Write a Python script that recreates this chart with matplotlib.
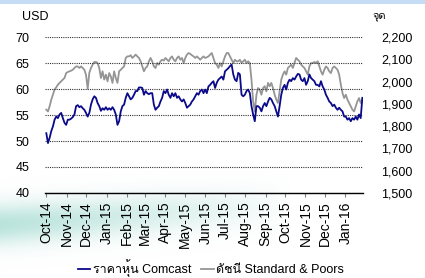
import numpy as np
import pandas as pd
import matplotlib
matplotlib.use("Agg")
import matplotlib.pyplot as plt
import matplotlib.dates as mdates
from matplotlib import font_manager
from matplotlib.ft2font import FT2Font

# find something that can draw Thai, fall back to the latin font for the rest
thai_font = None
for f in font_manager.fontManager.ttflist:
    try:
        if 0x0E23 in FT2Font(f.fname).get_charmap():
            thai_font = f.name
            break
    except Exception:
        pass
families = ['Liberation Sans', 'DejaVu Sans']
if thai_font:
    families = ['Liberation Sans', thai_font, 'DejaVu Sans']
plt.rcParams['font.family'] = families

# values, Oct-2014 .. late Jan-2016
start_date = '2014-10-01'
end_date = '2016-01-27'

comcast = [
    51.5, 49.6, 50.6, 51.9, 52.8, 54.1, 54.7, 54.4, 55.1, 55.4,
    54.4, 53.5, 53.1, 54.1, 54.1, 54.3, 54.6, 55.1, 56.7, 56.9,
    56.5, 56.7, 56.3, 56.0, 55.4, 54.7, 55.4, 57.0, 58.0, 58.6,
    58.3, 57.3, 56.7, 55.8, 56.3, 56.0, 56.5, 56.0, 56.3, 56.0,
    56.5, 56.0, 55.1, 53.1, 53.8, 55.7, 56.7, 57.0, 58.3, 59.2,
    58.6, 58.0, 58.3, 58.9, 59.6, 59.6, 60.3, 60.3, 60.2, 58.9,
    59.6, 59.2, 59.0, 59.2,
    59.2, 57.0, 56.0, 56.4, 56.7, 57.6, 58.3, 59.6, 59.2, 59.9,
    58.9, 58.3, 59.2, 58.6, 59.2, 58.3, 58.6, 58.0, 57.6, 58.0,
    57.3, 56.4, 56.7, 57.0, 57.6, 58.0, 58.6, 59.2, 58.9, 59.6,
    59.9, 59.2, 59.9, 59.2, 60.5, 60.8, 61.2, 61.5, 60.2, 61.2,
    61.8, 62.1, 62.4, 61.8, 63.4, 63.7, 64.0, 64.4, 64.7, 62.8,
    61.8, 61.5, 63.1, 62.8, 58.9, 58.6, 58.9, 59.6, 59.9, 59.2,
    56.7, 55.1, 53.8, 56.7,
    56.7, 56.4, 55.7, 56.7, 57.3, 56.7, 57.6, 58.3, 58.0, 57.3,
    56.7, 55.7, 54.7, 56.7, 58.9, 60.2, 60.8, 59.9, 61.2, 61.8,
    61.5, 62.1, 61.8, 62.4, 62.9, 62.8, 61.8, 61.5, 62.1, 60.8,
    61.5, 62.8, 62.1, 61.8, 61.5, 60.8, 60.8, 60.5, 61.5, 60.5,
    59.9, 58.9, 58.3, 57.6, 57.3, 56.7, 57.0, 56.4, 56.0, 56.4,
    56.0, 55.7, 54.7, 54.7, 54.1, 54.4, 53.8, 54.4, 54.1, 54.7,
    54.1, 55.1, 54.4, 58.3,
]

sp500 = [
    1874, 1866, 1889, 1919, 1941, 1964, 1974, 1986, 1994, 2001,
    2009, 2016, 2038, 2043, 2046, 2049, 2053, 2061, 2068, 2068,
    2061, 2068, 2061, 2053, 2030, 1968, 2040, 2061, 2076, 2088,
    2088, 2083, 2061, 2016, 2046, 2009, 2031, 2001, 2038, 2023,
    1994, 2046, 2016, 1994, 2046, 2053, 2061, 2068, 2106, 2113,
    2113, 2118, 2106, 2113, 2121, 2113, 2106, 2091, 2068, 2046,
    2061, 2068, 2091, 2106,
    2091, 2068, 2061, 2083, 2076, 2091, 2098, 2094, 2106, 2098,
    2091, 2106, 2113, 2098, 2091, 2106, 2113, 2098, 2106, 2083,
    2106, 2121, 2128, 2124, 2118, 2113, 2106, 2113, 2106, 2098,
    2106, 2113, 2106, 2109, 2113, 2121, 2128, 2106, 2083, 2076,
    2061, 2083, 2068, 2091, 2113, 2128, 2128, 2113, 2098, 2083,
    2098, 2091, 2091, 2098, 2083, 2091, 2098, 2083, 2091, 2083,
    2008, 1911, 1866, 1941,
    1971, 1964, 1941, 1971, 1979, 1956, 1994, 1979, 1994, 1971,
    1941, 1919, 1904, 1956, 2009, 2031, 2046, 2031, 2061, 2068,
    2076, 2061, 2083, 2106, 2098, 2091, 2076, 2068, 2061, 2046,
    2031, 2068, 2083, 2083, 2088, 2083, 2091, 2068, 2046, 2031,
    2053, 2068, 2061, 2046, 2038, 2061, 2068, 2061, 2053, 2031,
    1986, 1949, 1926, 1941, 1919, 1904, 1889, 1874, 1866, 1889,
    1911, 1926, 1904, 1919,
]

left_ticks = [40, 45, 50, 55, 60, 65, 70]
right_ticks = [1500, 1600, 1700, 1800, 1900, 2000, 2100, 2200]
label_comcast = 'ราคาหุ้น Comcast'
label_sp = 'ดัชนี Standard & Poors'

dates = pd.date_range(start_date, end_date, periods=len(comcast))

fig = plt.figure(figsize=(4.25, 2.78), dpi=100)
W, H = 425, 278

# decoration: light blue strip on top and a faint teal swoosh at the bottom left
bg = fig.add_axes([0, 0, 1, 1], zorder=-5)
bg.set_axis_off()
yy, xx = np.mgrid[0:H, 0:W]
img = np.ones((H, W, 4))
img[..., 0], img[..., 1], img[..., 2] = 0.70, 0.88, 0.85
band = np.exp(-((yy - 224 + 0.07 * xx) / 20.0) ** 2)
fade = np.clip(1 - xx / 290.0, 0, 1) ** 0.8
img[..., 3] = 0.9 * band * fade
bg.imshow(img, extent=[0, W, H, 0], aspect='auto')
bg.add_patch(plt.Rectangle((0, 0), W, 3.5, color='#c4dcf4', lw=0))
bg.set_xlim(0, W)
bg.set_ylim(H, 0)

ax = fig.add_axes([45 / W, 85 / H, 318 / W, 156 / H])
ax2 = ax.twinx()
ax.set_zorder(ax2.get_zorder() + 1)
ax.patch.set_visible(False)

l2, = ax2.plot(dates, sp500, color='#959595', lw=1.3, label=label_sp)
l1, = ax.plot(dates, comcast, color='#0a0a8a', lw=1.3, label=label_comcast)

ax.set_ylim(40, 70)
ax.set_yticks(left_ticks)
ax2.set_ylim(1500, 2200)
ax2.set_yticks(right_ticks)
ax2.set_yticklabels(['{:,}'.format(v) for v in right_ticks])
ax.set_xlim(pd.Timestamp('2014-09-29'), pd.Timestamp('2016-01-28'))

ax.yaxis.grid(True, color='#303030', linestyle=(0, (1, 1)), lw=0.8)
for a in (ax, ax2):
    for s in ('top', 'left', 'right'):
        a.spines[s].set_visible(False)
ax2.spines['bottom'].set_visible(False)
ax.spines['bottom'].set_color('black')
ax.spines['bottom'].set_linewidth(1.0)

ax.tick_params(axis='y', length=0, pad=11, labelsize=9)
ax2.tick_params(axis='y', length=0, pad=13, labelsize=9)
ax.tick_params(axis='x', length=3, width=0.8, color='#808080', pad=3, labelsize=10)
ax.xaxis.set_major_locator(mdates.MonthLocator())
ax.xaxis.set_major_formatter(mdates.DateFormatter('%b-%y'))
plt.setp(ax.get_xticklabels(), rotation=90, ha='center')

fig.text(35 / W, 1 - 17 / H, 'USD', ha='center', va='center', fontsize=9)
fig.text(379 / W, 1 - 16 / H, 'จุด', ha='center', va='center', fontsize=8)

fig.legend(handles=[l1, l2], loc='center', bbox_to_anchor=(211 / W, 1 - 268 / H),
           ncol=2, frameon=False, fontsize=9, handlelength=1.0,
           handletextpad=0.2, columnspacing=0.8, borderpad=0)

fig.savefig('out.png', dpi=100)
